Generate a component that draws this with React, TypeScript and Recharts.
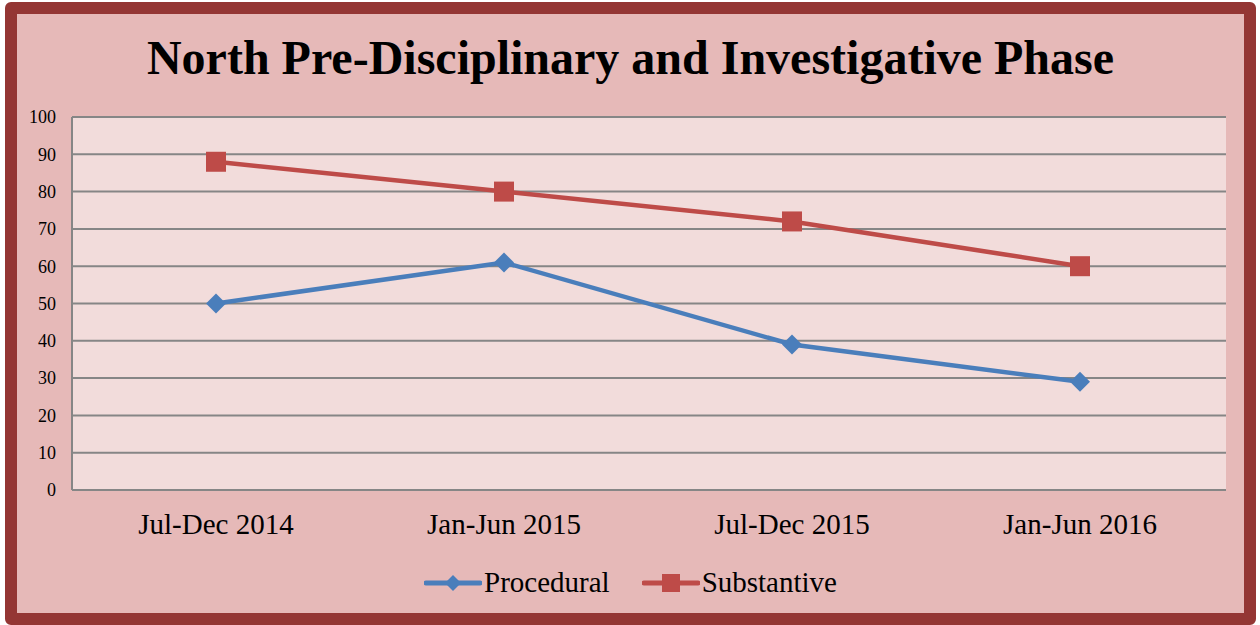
import React from 'react';
import { LineChart, Line, XAxis, YAxis, CartesianGrid, Legend } from 'recharts';

const periods = ['Jul-Dec 2014', 'Jan-Jun 2015', 'Jul-Dec 2015', 'Jan-Jun 2016'];
const procedural = [50, 61, 39, 29];
const substantive = [88, 80, 72, 60];
const yTicks = [0, 10, 20, 30, 40, 50, 60, 70, 80, 90, 100];

const BLUE = '#4A7EBB';
const RED = '#BE4B48';
const FONT = '"Liberation Serif", "Times New Roman", serif';

const data = periods.map((p, i) => ({
  period: p,
  Procedural: procedural[i],
  Substantive: substantive[i],
}));

const DiamondDot = (props: any) => {
  const { cx, cy } = props;
  if (cx == null || cy == null) return null;
  const r = 10;
  return (
    <path
      d={`M${cx},${cy - r} L${cx + r},${cy} L${cx},${cy + r} L${cx - r},${cy} Z`}
      fill={BLUE}
      stroke="none"
    />
  );
};

const SquareDot = (props: any) => {
  const { cx, cy } = props;
  if (cx == null || cy == null) return null;
  return <rect x={cx - 10} y={cy - 10} width={20} height={20} fill={RED} />;
};

const LegendContent = () => {
  const items = [
    { name: 'Procedural', color: BLUE, shape: 'diamond' },
    { name: 'Substantive', color: RED, shape: 'square' },
  ];
  return (
    <div style={{ display: 'flex', justifyContent: 'center', gap: 32, fontFamily: FONT, fontSize: 29 }}>
      {items.map((it) => (
        <div key={it.name} style={{ display: 'flex', alignItems: 'center' }}>
          <svg width={58} height={20} style={{ marginRight: 2 }}>
            <line x1={2} y1={10} x2={56} y2={10} stroke={it.color} strokeWidth={5} strokeLinecap="round" />
            {it.shape === 'diamond' ? (
              <path d="M29,2 L37,10 L29,18 L21,10 Z" fill={it.color} />
            ) : (
              <rect x={20} y={1} width={18} height={18} fill={it.color} />
            )}
          </svg>
          <span style={{ color: '#000' }}>{it.name}</span>
        </div>
      ))}
    </div>
  );
};

export default function App() {
  return (
    <div
      style={{
        position: 'fixed',
        left: 5,
        top: 2,
        width: 1251,
        height: 623,
        boxSizing: 'border-box',
        border: '12px solid #943634',
        borderRadius: 6,
        background: '#E6B9B8',
      }}
    >
      <div
        style={{
          position: 'absolute',
          left: 0,
          top: 20,
          width: '100%',
          textAlign: 'center',
          fontFamily: FONT,
          fontWeight: 'bold',
          fontSize: 48,
          lineHeight: '48px',
          color: '#000',
        }}
      >
        North Pre-Disciplinary and Investigative Phase
      </div>
      <div style={{ position: 'absolute', left: 0, top: 0 }}>
        <LineChart
          width={1227}
          height={599}
          data={data}
          margin={{ top: 103, right: 18, left: 10, bottom: 73 }}
        >
          <CartesianGrid
            vertical={false}
            stroke="#868686"
            strokeWidth={2}
            fill="#F2DCDB"
            fillOpacity={1}
          />
          <XAxis
            dataKey="period"
            height={50}
            padding={{ left: 144, right: 146 }}
            stroke="#868686"
            strokeWidth={2}
            tickLine={false}
            tickSize={0}
            tickMargin={23}
            interval={0}
            tick={{ fill: '#000', fontSize: 29, fontFamily: FONT }}
          />
          <YAxis
            width={45}
            domain={[0, 100]}
            ticks={yTicks}
            interval={0}
            stroke="#868686"
            strokeWidth={2}
            tickLine={false}
            tickSize={0}
            tickMargin={16}
            tick={{ fill: '#000', fontSize: 18, fontFamily: FONT }}
          />
          <Legend
            verticalAlign="middle"
            align="center"
            layout="horizontal"
            wrapperStyle={{ top: 552, left: 0, width: '100%' }}
            content={<LegendContent />}
          />
          <Line
            type="linear"
            dataKey="Procedural"
            stroke={BLUE}
            strokeWidth={4.5}
            dot={<DiamondDot />}
            activeDot={false}
            isAnimationActive={false}
          />
          <Line
            type="linear"
            dataKey="Substantive"
            stroke={RED}
            strokeWidth={4.5}
            dot={<SquareDot />}
            activeDot={false}
            isAnimationActive={false}
          />
        </LineChart>
      </div>
    </div>
  );
}
